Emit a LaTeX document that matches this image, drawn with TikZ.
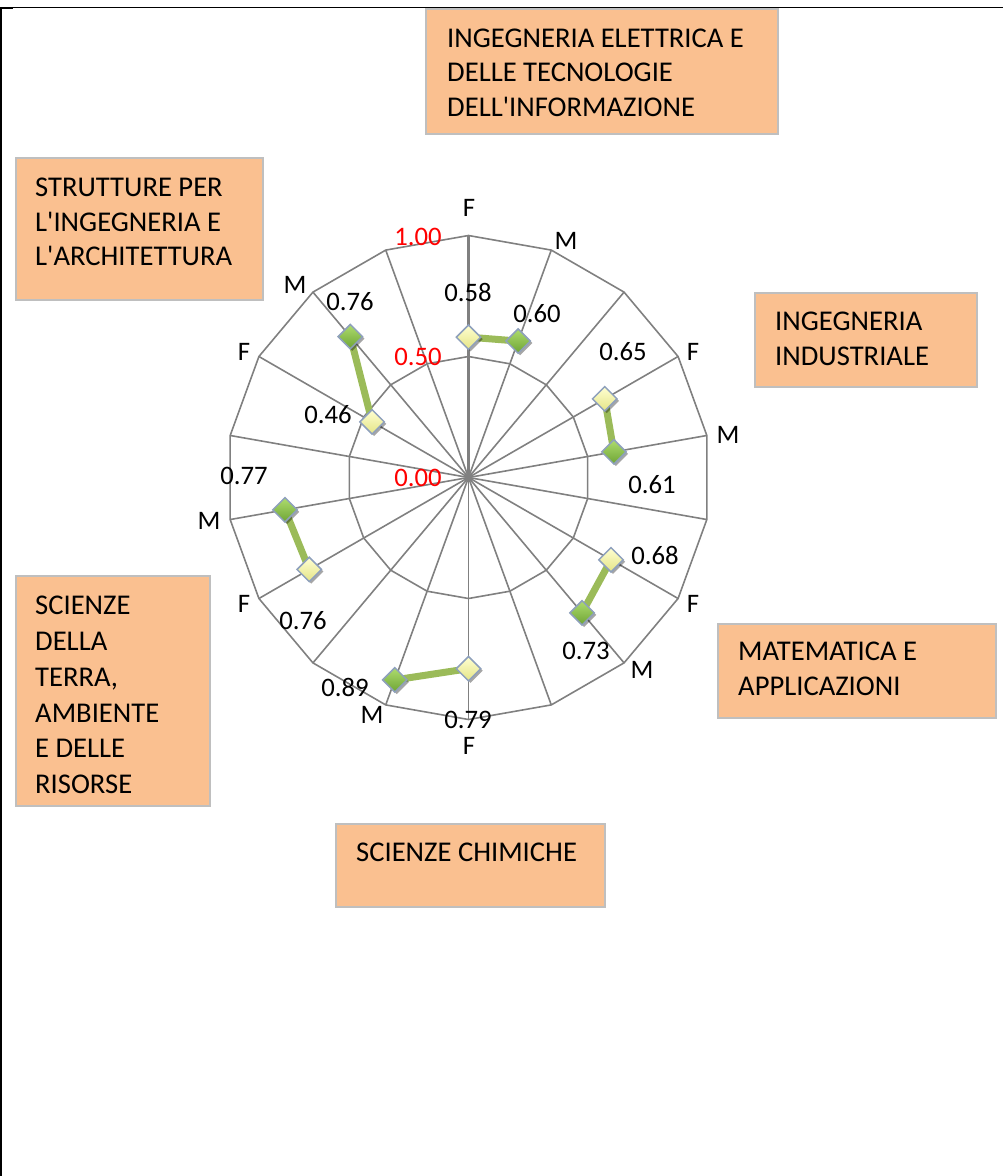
\documentclass[tikz,border=0pt]{standalone}
\usepackage{fontspec}
\setmainfont{Carlito}[Ligatures=TeXOff]
\usetikzlibrary{shapes.geometric,shadows,calc}
\pgfdeclarelayer{gridlayer}
\pgfdeclarelayer{pairlayer}
\pgfsetlayers{gridlayer,pairlayer,main}
\definecolor{boxfill}{HTML}{FAC090}
\definecolor{boxborder}{HTML}{BFBFBF}
\definecolor{gridgray}{HTML}{808080}
\definecolor{pairgreen}{HTML}{9BBB59}
\definecolor{mkborder}{HTML}{8EA0BC}
\definecolor{ftop}{HTML}{FFFFD2}
\definecolor{fbot}{HTML}{E4E486}
\definecolor{mtop}{HTML}{AEDC6E}
\definecolor{mbot}{HTML}{6EA434}
\tikzset{
  gridline/.style={draw=gridgray, line width=1.6pt},
  axisline/.style={draw=gridgray, line width=2.8pt},
  pairline/.style={draw=pairgreen, line width=7pt},
  mk/.style={diamond, aspect=1, minimum size=25pt, inner sep=0pt, draw=mkborder, line width=1.5pt,
    drop shadow={shadow xshift=2pt, shadow yshift=-2pt, opacity=0.35, fill=black}},
  fmk/.style={mk, top color=ftop, bottom color=fbot},
  mmk/.style={mk, top color=mtop, bottom color=mbot},
  val/.style={font=\fontsize{26.7}{32}\selectfont, inner sep=0pt},
  axl/.style={val, text=red},
  boxrect/.style={draw=boxborder, line width=2pt, fill=boxfill},
  boxtext/.style={font=\fontsize{28.6}{34.5}\selectfont, align=left, anchor=north west, inner sep=0pt},
  frameline/.style={draw=black}
}
\begin{document}
\begin{tikzpicture}[x=1pt,y=-1pt]
\useasboundingbox (0,0) rectangle (1003,1176);
% frame
\draw[frameline, line width=1.5pt] (0,7.3) -- (1003,7.3);
\draw[frameline, line width=2.5pt] (1.2,7) -- (1.2,1176);
\fill[black] (0,6.5) rectangle (13,9.3);

% category boxes
\node[boxrect, anchor=north west, minimum width=352pt, minimum height=125pt] (b1) at (425,8) {};
\node[boxtext] (t1) at (447,28.3) {INGEGNERIA ELETTRICA E\\DELLE TECNOLOGIE\\DELL'INFORMAZIONE};
\node[boxrect, anchor=north west, minimum width=247pt, minimum height=142pt] (b2) at (15,157) {};
\node[boxtext] (t2) at (35,178) {STRUTTURE PER\\L'INGEGNERIA E\\L'ARCHITETTURA};
\node[boxrect, anchor=north west, minimum width=222pt, minimum height=94pt] (b3) at (754,292) {};
\node[boxtext] (t3) at (775,312) {INGEGNERIA\\INDUSTRIALE};
\node[boxrect, anchor=north west, minimum width=278pt, minimum height=94pt] (b4) at (717,623) {};
\node[boxtext] (t4) at (738,642) {MATEMATICA E\\APPLICAZIONI};
\node[boxrect, anchor=north west, minimum width=194pt, minimum height=230pt] (b5) at (15,575) {};
\node[boxtext, font=\fontsize{28.6}{35.8}\selectfont] (t5) at (35,596) {SCIENZE\\DELLA\\TERRA,\\AMBIENTE\\E DELLE\\RISORSE};
\node[boxrect, anchor=north west, minimum width=269pt, minimum height=83pt] (b6) at (335,823) {};
\node[boxtext] (t6) at (356,843) {SCIENZE CHIMICHE};

% radar grid
\coordinate (c) at (468.5,477.5);
\begin{pgfonlayer}{gridlayer}
\foreach \t in {20,40,...,340} \draw[gridline] (c) -- ($(c)+(\t-90:242)$);
\draw[axisline] (c) -- ($(c)+(-90:242)$);
\draw[gridline] ($(c)+(-90:242)$) \foreach \t in {20,40,...,340} {-- ($(c)+(\t-90:242)$)} -- cycle;
\draw[gridline] ($(c)+(-90:121)$) \foreach \t in {20,40,...,340} {-- ($(c)+(\t-90:121)$)} -- cycle;
\end{pgfonlayer}

% axis values
\node[axl] (a100) at (418,237) {1.00};
\node[axl] (a050) at (418,357) {0.50};
\node[axl] (a000) at (418,478) {0.00};

% markers
\node[fmk] (f1) at ($(c)+(-90:140.36)$) {};
\node[mmk] (m1) at ($(c)+(-70:145.2)$) {};
\node[fmk] (f2) at ($(c)+(-30:157.3)$) {};
\node[mmk] (m2) at ($(c)+(-10:147.62)$) {};
\node[fmk] (f3) at ($(c)+(30:164.56)$) {};
\node[mmk] (m3) at ($(c)+(50:176.66)$) {};
\node[fmk] (f4) at ($(c)+(90:191.18)$) {};
\node[mmk] (m4) at ($(c)+(110:215.38)$) {};
\node[fmk] (f5) at ($(c)+(150:183.92)$) {};
\node[mmk] (m5) at ($(c)+(170:186.34)$) {};
\node[fmk] (f6) at ($(c)+(210:111.32)$) {};
\node[mmk] (m6) at ($(c)+(230:183.92)$) {};

\begin{pgfonlayer}{pairlayer}
\foreach \i in {1,...,6} \draw[pairline] (f\i.center) -- (m\i.center);
\end{pgfonlayer}

% category letters
\node[val] (lf1) at (469,208) {F};
\node[val] (lm1) at (566,241) {M};
\node[val] (lf2) at (693,352) {F};
\node[val] (lm2) at (728,435) {M};
\node[val] (lf3) at (693,604) {F};
\node[val] (lm3) at (642,670) {M};
\node[val] (lf4) at (469,746) {F};
\node[val] (lm4) at (372,715) {M};
\node[val] (lf5) at (244,604) {F};
\node[val] (lm5) at (209,521) {M};
\node[val] (lf6) at (244,352) {F};
\node[val] (lm6) at (295,285) {M};

% value labels
\node[val] (v1) at (468,292) {0.58};
\node[val] (v2) at (537,314) {0.60};
\node[val] (v3) at (623,352) {0.65};
\node[val] (v4) at (652,485) {0.61};
\node[val] (v5) at (655,555) {0.68};
\node[val] (v6) at (586,651) {0.73};
\node[val] (v7) at (468,720) {0.79};
\node[val] (v8) at (345,687) {0.89};
\node[val] (v9) at (303,621) {0.76};
\node[val] (v10) at (244,476) {0.77};
\node[val] (v11) at (328,415) {0.46};
\node[val] (v12) at (350,302) {0.76};
\end{tikzpicture}
\end{document}
